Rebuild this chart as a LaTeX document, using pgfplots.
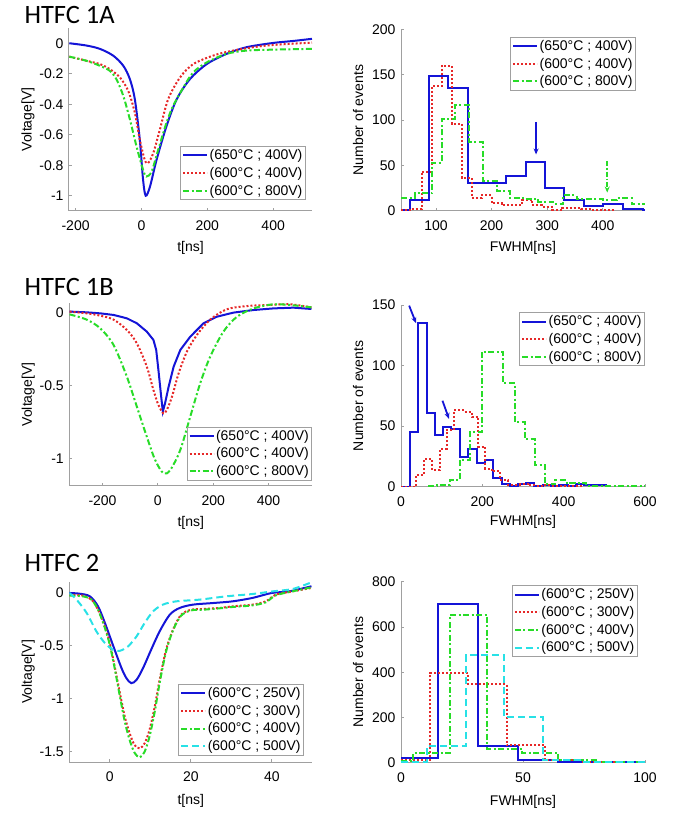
\documentclass[border=0pt]{standalone}
\usepackage{fontspec}
\setmainfont{Liberation Sans}
\newfontfamily\titlefont{Carlito}
\usepackage{pgfplots}
\pgfplotsset{compat=1.18}
\usetikzlibrary{arrows.meta}

\definecolor{mblue}{RGB}{20,20,215}
\definecolor{mred}{RGB}{230,40,40}
\definecolor{mgreen}{RGB}{40,220,40}
\definecolor{mcyan}{RGB}{40,225,230}
\definecolor{axgray}{RGB}{160,160,160}

\pgfplotsset{
  panel/.style={
    scale only axis, width=243pt, height=183pt, anchor=south west,
    axis x line*=bottom, axis y line*=left,
    axis line style={axgray, line width=1pt, -},
    tick style={axgray, line width=0.8pt},
    tick align=inside, major tick length=3pt,
    tick label style={font=\fontsize{14}{16}\selectfont},
    xticklabel style={yshift=-6pt},
    yticklabel style={xshift=-2pt},
    label style={font=\fontsize{14}{16}\selectfont},
    xlabel style={anchor=center},
    ylabel style={anchor=center},
    /pgf/number format/assume math mode=true,
    legend cell align=left,
    legend style={draw=axgray, line width=1pt, font=\fontsize{14}{16}\selectfont,
      inner sep=1.5pt, row sep=3pt, nodes={inner sep=1.5pt}},
    legend image code/.code={\draw[##1] (0pt,0pt) -- (24pt,0pt);},
  },
  lb/.style={draw=mblue, line width=2pt, solid},
  lr/.style={draw=mred, line width=2pt, dash pattern=on 2pt off 2pt},
  lg/.style={draw=mgreen, line width=2pt, dash pattern=on 6pt off 2.5pt on 2pt off 2.5pt},
  lc/.style={draw=mcyan, line width=2pt, dash pattern=on 7pt off 4pt},
}

\begin{document}
\begin{tikzpicture}
\useasboundingbox (0,0) rectangle (675pt,814pt);

\node[anchor=west, font=\titlefont\fontsize{26.5}{31}\selectfont] at (21pt,799pt) {HTFC 1A};
\node[anchor=west, font=\titlefont\fontsize{26.5}{31}\selectfont] at (21pt,527pt) {HTFC 1B};
\node[anchor=west, font=\titlefont\fontsize{26.5}{31}\selectfont] at (21pt,251pt) {HTFC 2};

% HTFC 1A pulses
\begin{axis}[panel, at={(69pt,603pt)}, height=183pt,
  xmin=-220, xmax=518, ymin=-1.1, ymax=0.1,
  xtick={-200,0,200,400}, ytick={-1,-0.8,-0.6,-0.4,-0.2,0},
  xlabel={t[ns]}, ylabel={Voltage[V]},
  xlabel style={at={(axis description cs:0.5,-0.202)}},
  ylabel style={at={(axis description cs:-0.169,0.5)}},
  legend style={at={(0.975,0.06)}, anchor=south east}]
\addplot[lb, smooth] coordinates {(-219,0)(-167,-0.015)(-126,-0.037)(-86,-0.081)(-55,-0.148)(-35,-0.236)(-20,-0.368)(-5,-0.632)(5,-0.896)(13,-1.0)(26,-0.94)(46,-0.764)(76,-0.544)(107,-0.368)(147,-0.236)(198,-0.137)(258,-0.07)(319,-0.026)(400,0.002)(461,0.015)(518,0.029)};
\addplot[lr, smooth] coordinates {(-219,-0.088)(-167,-0.115)(-126,-0.137)(-96,-0.17)(-65,-0.225)(-40,-0.313)(-20,-0.456)(-5,-0.632)(10,-0.764)(20,-0.786)(36,-0.72)(56,-0.566)(81,-0.368)(117,-0.225)(157,-0.137)(218,-0.081)(279,-0.048)(380,-0.015)(518,0.004)};
\addplot[lg, smooth] coordinates {(-219,-0.088)(-167,-0.115)(-126,-0.148)(-96,-0.181)(-76,-0.236)(-55,-0.346)(-35,-0.5)(-15,-0.676)(5,-0.83)(15,-0.874)(31,-0.841)(51,-0.698)(76,-0.522)(96,-0.412)(127,-0.291)(157,-0.192)(198,-0.126)(258,-0.07)(319,-0.048)(400,-0.042)(518,-0.037)};
\legend{(650°C ; 400V),(600°C ; 400V),(600°C ; 800V)}
\end{axis}

% HTFC 1A histogram
\begin{axis}[panel, at={(401pt,603.3pt)}, width=244pt, height=181.4pt,
  xmin=37, xmax=476, ymin=0, ymax=200,
  xtick={100,200,300,400}, ytick={0,50,100,150,200},
  xlabel={FWHM[ns]}, ylabel={Number of events},
  xlabel style={at={(axis description cs:0.5,-0.204)}},
  ylabel style={at={(axis description cs:-0.176,0.5)}},
  legend style={at={(0.963,0.959)}, anchor=north east}]
\addplot[lb, const plot] coordinates {(37,0.7)(53,11.8)(87,149)(122,135)(158,30)(192,31)(226,38.6)(262,54)(296,24.7)(331,11.8)(366,5.5)(401,7)(436,2)(473,0.5)(476,0.5)};
\addplot[lr, const plot] coordinates {(37,0.5)(56,2)(74,43)(92,137)(111,160)(128,96)(146,36)(164,14)(182,17)(200,8)(218,6)(236,6)(255,12)(273,6)(291,4)(309,1)(327,3)(345,2.5)(361,1.5)(379,1)(397,0.5)(422,0.5)};
\addplot[lg, const plot] coordinates {(37,13.5)(62,19)(92,53)(110,101)(134,116.5)(160,76)(184,32.7)(209,21.7)(233,14.3)(260,13)(284,10)(311,7.4)(329,17)(353,12.5)(377,12.5)(401,11.5)(425,13.5)(452,7)(476,7)};
\legend{(650°C ; 400V),(600°C ; 400V),(600°C ; 800V)}
\draw[mblue, line width=1.8pt, -{Stealth[length=6pt,width=5pt]}] (axis cs:280,98) -- (axis cs:280,62);
\draw[mgreen, line width=1.8pt, dash pattern=on 5pt off 2pt on 1.8pt off 2pt, -{Stealth[length=6pt,width=5pt]}] (axis cs:408,55) -- (axis cs:408,20);
\end{axis}

% HTFC 1B pulses
\begin{axis}[panel, at={(69.3pt,328pt)}, height=183pt,
  xmin=-320, xmax=558, ymin=-1.19, ymax=0.064,
  xtick={-200,0,200,400}, ytick={-1,-0.5,0},
  xlabel={t[ns]}, ylabel={Voltage[V]},
  xlabel style={at={(axis description cs:0.5,-0.202)}},
  ylabel style={at={(axis description cs:-0.169,0.5)}},
  legend style={at={(1.0,0.03)}, anchor=south east}]
\addplot[lb] coordinates {(-319,0.005)(-257,0)(-208,-0.007)(-160,-0.018)(-112,-0.041)(-76,-0.075)(-40,-0.132)(-16,-0.189)(-6,-0.258)(2,-0.395)(12,-0.578)(18,-0.68)(26,-0.623)(39,-0.509)(57,-0.372)(81,-0.258)(117,-0.167)(165,-0.075)(213,-0.03)(273,-0.002)(346,0.016)(418,0.027)(490,0.032)(555,0.023)};
\addplot[lr, smooth] coordinates {(-319,0.005)(-257,-0.007)(-208,-0.023)(-160,-0.05)(-112,-0.121)(-76,-0.212)(-40,-0.372)(-16,-0.532)(2,-0.635)(20,-0.692)(32,-0.67)(51,-0.578)(75,-0.418)(105,-0.269)(141,-0.155)(189,-0.05)(249,0.021)(322,0.043)(394,0.05)(478,0.055)(555,0.034)};
\addplot[lg, smooth] coordinates {(-319,-0.014)(-257,-0.05)(-208,-0.11)(-160,-0.224)(-112,-0.441)(-76,-0.646)(-40,-0.852)(-10,-1.011)(20,-1.103)(45,-1.08)(81,-0.943)(117,-0.715)(153,-0.486)(189,-0.304)(237,-0.132)(286,-0.03)(346,0.027)(418,0.055)(490,0.048)(555,0.034)};
\legend{(650°C ; 400V),(600°C ; 400V),(600°C ; 800V)}
\end{axis}

% HTFC 1B histogram
\begin{axis}[panel, at={(401pt,327.3pt)}, width=244pt, height=181.7pt,
  xmin=0, xmax=600, ymin=0, ymax=150,
  xtick={0,200,400,600}, ytick={0,50,100,150},
  xlabel={FWHM[ns]}, ylabel={Number of events},
  xlabel style={at={(axis description cs:0.5,-0.193)}},
  ylabel style={at={(axis description cs:-0.176,0.5)}},
  legend style={at={(1.0,0.96)}, anchor=north east}]
\addplot[lb, const plot] coordinates {(0,0)(22,45)(42.6,135)(63,60.6)(83.6,43)(104,49.5)(124,48)(145,24.8)(165.5,31)(186,19.3)(206.6,22)(227,7.4)(247.6,2)(268,0.5)(287,2)(307.5,3)(328,0.5)(348.5,1.5)(369,0.5)(389.5,1)(410,0.5)(430.5,2)(451,1)(471.5,1)(492,1.5)(506,1.5)};
\addplot[lr, const plot] coordinates {(0,0)(37,9.7)(56.6,22.9)(77,13.8)(96,31)(112,46.8)(130,63.3)(153,62)(174,57.8)(190,33)(206.6,15)(223,12.7)(243.5,5.5)(264,1.4)(292,2)(312,1)(333,0.5)(353,1)(373,0.5)(395,0.5)(448,0.5)};
\addplot[lg, const plot] coordinates {(67,0.2)(88,1.4)(120,5.5)(145,22)(170,45.4)(198,111.5)(252,85.4)(280,53)(305,39)(330,18)(354,2)(379,5.5)(407,2.8)(428,2.8)(456,0.5)(600,0.5)};
\legend{(650°C ; 400V),(600°C ; 400V),(600°C ; 800V)}
\draw[mblue, line width=1.8pt, -{Stealth[length=6pt,width=5pt]}] (axis cs:20,149.5) -- (axis cs:37,135);
\draw[mblue, line width=1.8pt, -{Stealth[length=6pt,width=5pt]}] (axis cs:102,71) -- (axis cs:118,56);
\end{axis}

% HTFC 2 pulses
\begin{axis}[panel, at={(69.3pt,51.7pt)}, height=180.6pt,
  xmin=-10, xmax=50, ymin=-1.6, ymax=0.1,
  xtick={0,20,40}, ytick={-1.5,-1,-0.5,0},
  xlabel={t[ns]}, ylabel={Voltage[V]},
  xlabel style={at={(axis description cs:0.5,-0.216)}},
  ylabel style={at={(axis description cs:-0.169,0.5)}},
  legend style={at={(0.966,0.037)}, anchor=south east}]
\addplot[lb, smooth] coordinates {(-10,-0.006)(-7.4,-0.013)(-4.9,-0.038)(-2.9,-0.132)(-1.2,-0.289)(0,-0.415)(1.2,-0.541)(2.9,-0.714)(4.1,-0.808)(5.3,-0.855)(6.6,-0.824)(8.2,-0.714)(10.2,-0.541)(12.3,-0.368)(14.8,-0.211)(17.2,-0.148)(20.5,-0.116)(25.4,-0.101)(30.3,-0.085)(35.2,-0.053)(40,-0.006)(44.3,0.009)(49.8,0.057)};
\addplot[lr, smooth] coordinates {(-10,-0.022)(-6.6,-0.031)(-4.5,-0.069)(-2.9,-0.164)(-1.2,-0.321)(0,-0.478)(1.2,-0.698)(2.5,-0.95)(3.7,-1.17)(4.9,-1.327)(6.1,-1.437)(7.4,-1.469)(8.6,-1.421)(9.8,-1.296)(11.1,-1.076)(12.3,-0.824)(13.9,-0.541)(15.6,-0.352)(17.6,-0.211)(20.1,-0.164)(23,-0.157)(27,-0.148)(30.3,-0.132)(35.2,-0.116)(38.5,-0.085)(41,-0.022)(45.1,0.009)(49.8,0.041)};
\addplot[lg, smooth] coordinates {(-10,-0.031)(-6.6,-0.038)(-4.5,-0.069)(-2.9,-0.164)(-1.2,-0.337)(0,-0.494)(1.2,-0.714)(2.5,-0.981)(3.7,-1.217)(4.9,-1.39)(6.1,-1.51)(7.4,-1.554)(8.6,-1.5)(9.8,-1.359)(11.1,-1.123)(12.3,-0.855)(13.9,-0.557)(15.6,-0.359)(17.6,-0.22)(20.1,-0.17)(23,-0.164)(27,-0.151)(30.3,-0.138)(35.2,-0.123)(38.5,-0.094)(41,-0.028)(45.1,0.009)(49.8,0.047)};
\addplot[lc, smooth] coordinates {(-10,-0.006)(-8.2,-0.069)(-5.7,-0.195)(-3.3,-0.368)(-1.2,-0.478)(0.8,-0.541)(2.5,-0.55)(4.5,-0.509)(6.6,-0.415)(8.6,-0.289)(10.7,-0.179)(13.1,-0.116)(16.4,-0.085)(22.1,-0.069)(28.7,-0.038)(35.2,-0.016)(40.2,0.009)(45.1,0.031)(49.8,0.094)};
\legend{(600°C ; 250V),(600°C ; 300V),(600°C ; 400V),(600°C ; 500V)}
\end{axis}

% HTFC 2 histogram
\begin{axis}[panel, at={(401pt,51.3pt)}, width=244pt, height=181pt,
  xmin=0, xmax=100, ymin=0, ymax=800,
  xtick={0,50,100}, ytick={0,200,400,600,800},
  xlabel={FWHM[ns]}, ylabel={Number of events},
  xlabel style={at={(axis description cs:0.5,-0.215)}},
  ylabel style={at={(axis description cs:-0.176,0.5)}},
  legend style={at={(0.97,0.98)}, anchor=north east}]
\addplot[lb, const plot] coordinates {(0,22)(15.3,700)(31.7,74)(48,12)(64.5,3)(81,1)(100,1)};
\addplot[lr, const plot] coordinates {(0,10)(11.9,395)(27.6,348)(43.3,78)(59,12)(74.5,3)(90,3)};
\addplot[lg, const plot] coordinates {(0,8)(5,41.5)(20,653)(35.4,60.5)(49.7,44)(64.5,10)(80,2)(100,2)};
\addplot[lc, const plot] coordinates {(0,3)(10.5,75)(26.5,476)(42.2,203)(58,12)(73.4,3)(100,3)};
\legend{(600°C ; 250V),(600°C ; 300V),(600°C ; 400V),(600°C ; 500V)}
\end{axis}
\end{tikzpicture}
\end{document}
